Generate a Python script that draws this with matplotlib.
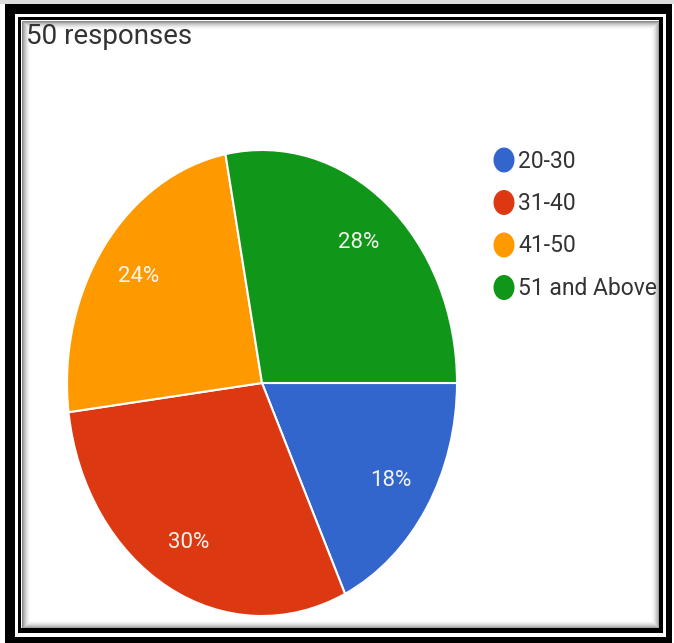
import matplotlib
matplotlib.use("Agg")
import matplotlib.pyplot as plt
from matplotlib.patches import Rectangle, Ellipse

# survey: age groups of respondents
age_groups = ["20-30", "31-40", "41-50", "51 and Above"]
shares = [18, 30, 24, 28]
slice_colors = ["#3366cc", "#dc3912", "#ff9900", "#109618"]
header = "50 responses"

W, H = 674, 643
FONT = "Roboto"

fig = plt.figure(figsize=(W / 100, H / 100), dpi=100)
fig.patch.set_facecolor("white")

# background axes in pixel units (y grows downwards) for frame, title and legend
bg = fig.add_axes([0, 0, 1, 1], zorder=0)
bg.set_xlim(0, W)
bg.set_ylim(H, 0)
bg.axis("off")

def box(x0, y0, x1, y1, **kw):
    bg.add_patch(Rectangle((x0, y0), x1 - x0, y1 - y0, **kw))

# double black frame
box(0, 0, W, 4, facecolor="#dcdcdc", edgecolor="none")
box(5, 4, 672, H, facecolor="black", edgecolor="none")
box(15, 14, 666, 637, facecolor="white", edgecolor="none")
box(18, 17, 663, 633, facecolor="black", edgecolor="none")
box(21, 20, 659, 628, facecolor="white", edgecolor="none")
# soft inner shadow along the inside of the frame
for k in range(9):
    a = 0.45 * (1 - k / 9) ** 2
    box(21 + k + 0.5, 20 + k + 0.5, 659 - k - 0.5, 628 - k - 0.5,
        facecolor="none", edgecolor=(0, 0, 0, a), linewidth=0.72)

bg.text(26, 44, header, fontsize=20, family=FONT, color="#333333",
        ha="left", va="baseline")

# legend drawn by hand: dot + label per group
leg_x, leg_y0, leg_step = 504, 160, 42.5
for i, (lab, col) in enumerate(zip(age_groups, slice_colors)):
    y = leg_y0 + i * leg_step
    bg.add_patch(Ellipse((leg_x, y), 21, 25, facecolor=col, edgecolor="none"))
    bg.text(leg_x + 14, y + 1, lab, fontsize=16.5, family=FONT,
            color="#333333", ha="left", va="center")

# pie axes: bounding box of the (stretched) pie in pixels
cx, cy, rx, ry = 262, 383, 195, 233
pie_ax = fig.add_axes([(cx - rx) / W, (H - cy - ry) / H, 2 * rx / W, 2 * ry / H],
                      zorder=1)
pie_ax.patch.set_alpha(0)
wedges, texts, autotexts = pie_ax.pie(
    shares, colors=slice_colors, startangle=0, counterclock=False,
    autopct="%d%%", pctdistance=0.78, radius=1,
    wedgeprops=dict(edgecolor="white", linewidth=1.5),
    textprops=dict(color="#f4f4ee", fontsize=16, family=FONT),
)
pie_ax.set_aspect("auto")
pie_ax.set_xlim(-1, 1)
pie_ax.set_ylim(-1, 1)
pie_ax.axis("off")

fig.savefig("out.png", dpi=100)
